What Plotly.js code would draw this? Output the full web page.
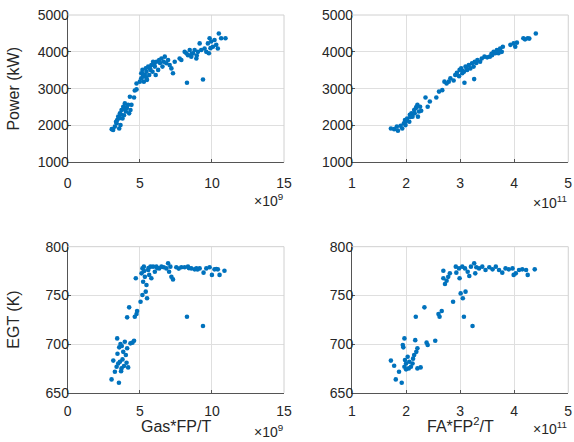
<!DOCTYPE html>
<html>
<head>
<meta charset="utf-8">
<script src="https://cdn.plot.ly/plotly-3.0.1.min.js"></script>
<style>html,body{margin:0;padding:0;background:#fff;}#chart{width:574px;height:442px;}</style>
</head>
<body>
<div id="chart"></div>
<script>
// Panel 1: Power vs Gas*FP/T (x in units of 1e9)
const gasX1 = [3.05,3.15,3.27,3.39,3.43,3.5,3.57,3.62,3.66,3.73,3.8,3.85,3.9,3.96,4.03,4.08,4.19,4.26,4.35,4.42,4.31,4.6,4.65,4.77,4.77,
  5.0,5.1,5.1,5.18,5.23,5.28,5.35,5.41,5.46,5.5,5.58,5.65,5.74,5.8,5.88,5.92,6.04,6.1,6.15,6.27,6.34,6.5,6.57,6.66,6.73,6.84,6.96,7.07,7.19,7.3,7.42,7.76,7.88,
  8.11,8.23,8.27,8.34,8.46,8.57,8.69,8.8,8.92,9.03,9.15,9.26,9.38,9.49,9.61,9.72,9.79,9.84,9.95,10.07,10.18,10.3,10.41,10.48,10.64,10.94,
  3.35,3.6,3.7,3.95,4.1,5.2,5.45,5.7,6.0,6.4,8.6,8.95,9.9];
const power1 = [1900,1880,1970,2060,2150,2240,1920,2330,2010,2420,2190,2510,2280,2600,2380,2470,2560,2330,2420,2560,2780,2760,2950,2980,3140,
  3190,3280,3420,3510,3330,3190,3370,3550,3460,3240,3600,3370,3510,3640,3460,3730,3600,3370,3730,3510,3780,3820,3600,3730,3870,3690,3780,3640,3550,3420,3730,3820,3780,
  4000,3960,3160,3910,4050,3870,3960,4050,3820,4000,4230,4050,3250,4090,4000,4230,3960,4370,4280,4140,4320,4190,4090,4500,4370,4370,
  2100,2200,2300,2450,2500,3400,3300,3550,3650,3700,3950,3900,4100];

// Panel 2: Power vs FA*FP^2/T (x in units of 1e11)
const faX2 = [1.72,1.78,1.83,1.85,1.9,1.93,1.96,1.98,1.99,2.02,2.06,2.07,2.1,2.12,2.15,2.16,2.18,2.21,2.22,2.24,2.26,2.28,2.36,2.4,2.44,2.56,2.61,2.67,2.71,2.75,2.79,2.82,2.88,2.91,2.94,2.98,2.99,3.02,3.04,3.07,3.08,3.1,3.13,3.16,3.19,3.22,3.25,3.26,3.27,3.32,3.37,3.4,3.45,3.5,3.55,3.59,3.62,3.65,3.68,3.71,3.74,3.77,3.79,3.93,3.99,4.02,4.05,4.17,4.2,4.25,4.28,4.4,
  2.0,2.08,2.19,3.05,3.12,3.3,3.58,3.7];
const power2 = [1920,1900,1970,1860,1990,1920,2060,2150,2010,2190,2100,2290,2330,2240,2420,2330,2470,2560,2240,2380,2510,2400,2760,2510,2650,2760,2920,2960,3190,3140,3190,3280,3220,3370,3430,3340,3510,3550,3420,3460,3160,3600,3510,3640,3550,3690,3600,3260,3730,3780,3730,3820,3870,3850,3870,3910,4000,3960,4050,3960,4090,4000,4140,4190,4230,4140,4250,4370,4340,4370,4360,4500,
  2120,2230,2500,3480,3560,3700,3950,4020];

// Panel 3: EGT vs Gas*FP/T (x in units of 1e9)
const gasX3 = [3.04,3.16,3.27,3.39,3.43,3.5,3.55,3.57,3.62,3.66,3.73,3.8,3.85,3.9,3.96,4.03,4.08,4.12,4.19,4.12,4.26,4.35,4.49,4.6,4.65,4.77,4.81,4.72,
  5.05,5.18,5.23,5.12,5.18,5.28,5.35,5.41,5.46,5.5,5.58,5.65,5.74,5.8,5.92,6.04,6.15,6.34,6.5,6.66,6.84,6.96,7.03,7.12,7.19,7.3,7.53,7.88,8.11,8.27,8.34,8.57,8.8,8.92,9.15,9.38,9.42,9.61,9.84,10.0,10.18,10.41,10.53,10.87,
  3.45,3.7,3.75,5.3,5.6,6.2,7.7,8.4,9.0,10.3];
const egt3 = [663.7,683,671.6,676.7,705.8,680,660.3,696.6,681.8,700,675,684.2,692,677.4,702.4,688.7,680.8,695.6,676,727.4,737.7,700.7,701.4,703.4,728,730.8,734,767.5,
  743.5,750.3,764,772.6,777.7,779.5,769,753.8,760.6,747,776,771,779.5,767.5,779.5,774.3,779.5,777.7,779.5,778.8,777.7,782.9,774.3,779.5,769,766.4,778.8,778.8,778.8,728,779.5,777.7,776.7,777.7,777.7,718.5,773.3,777.7,778.8,771,776.7,776.7,771,775.3,
  690,672,698,775,778,778,777.5,778,776.5,777];

// Panel 4: EGT vs FA*FP^2/T (x in units of 1e11)
const faX4 = [1.72,1.78,1.81,1.87,1.92,1.94,1.95,1.97,1.97,1.98,2.0,2.0,2.03,2.05,2.06,2.09,2.12,2.13,2.15,2.17,2.18,2.19,2.21,2.21,2.27,2.34,2.38,2.4,2.54,2.6,2.62,2.66,2.69,2.69,2.72,2.75,2.78,2.81,2.87,2.92,2.93,2.98,2.99,3.01,3.04,3.05,3.07,3.09,3.1,3.14,3.17,3.2,3.23,3.26,3.28,3.3,3.35,3.41,3.47,3.54,3.6,3.66,3.72,3.78,3.84,3.9,3.97,3.99,4.03,4.09,4.15,4.22,4.25,4.38];
const egt4 = [683,677.7,663.7,671.6,660.3,699,696.6,705.8,676.7,683.6,674,680,687,675,681.8,676.7,680,685,688.7,704,728,692,695.6,675,676,737.7,701.4,699,703.4,730.8,728,734,775.3,767.5,761.6,765,769,772.6,743.5,779.5,773.3,777.7,767.5,752,779.5,747,728,777.7,753.8,774.3,769.9,779.5,718.5,782.9,772.6,778.8,777.7,779.5,776,778.8,776.7,779.5,776,773.3,777.7,776.7,777.7,771,772.6,776,776.7,776,771,776.7];

const yTicksTop = [1000,2000,3000,4000,5000];
const yTicksBot = [650,700,750,800];
const xTicksGas = [0,5,10,15];
const xTicksFA = [1,2,3,4,5];

const blue = '#0072BD';
const textColor = '#262626';
const fontFam = 'Liberation Sans, Arial, Helvetica, sans-serif';

function trace(x, y, xa, ya) {
  return {x: x, y: y, xaxis: xa, yaxis: ya, type: 'scatter', mode: 'markers',
    marker: {color: blue, size: 4.6, line: {width: 0}}, hoverinfo: 'skip', showlegend: false};
}

const data = [
  trace(gasX1, power1, 'x', 'y'),
  trace(faX2, power2, 'x2', 'y2'),
  trace(gasX3, egt3, 'x3', 'y3'),
  trace(faX4, egt4, 'x4', 'y4')
];

function axis(domain, range, tickvals, anchor, standoff) {
  return {domain: domain, range: range, tickvals: tickvals, anchor: anchor,
    showgrid: true, gridcolor: '#dfdfdf', gridwidth: 1,
    showline: true, linecolor: '#555', linewidth: 1,
    ticks: 'inside', ticklen: 3, tickcolor: '#555',
    ticklabelstandoff: standoff,
    zeroline: false, fixedrange: true,
    tickfont: {family: fontFam, size: 14, color: textColor}};
}

const xL = [0.118, 0.4948], xR = [0.6132, 0.990];
const yT = [0.6328, 0.966], yB = [0.1115, 0.4419];

function ann(text, px, py, size, angle, xanchor) {
  return {text: text, xref: 'paper', yref: 'paper', x: px/574, y: 1 - py/442,
    xanchor: xanchor || 'center', yanchor: 'middle', textangle: angle || 0, showarrow: false,
    font: {size: size, family: fontFam, color: textColor}};
}

const layout = {
  width: 574, height: 442,
  margin: {l: 0, r: 0, t: 0, b: 0},
  paper_bgcolor: '#fff', plot_bgcolor: '#fff',
  font: {family: fontFam, color: textColor},
  xaxis: axis(xL, [0, 15], xTicksGas, 'y', 8),
  yaxis: axis(yT, [1000, 5000], yTicksTop, 'x', -5),
  xaxis2: axis(xR, [1, 5], xTicksFA, 'y2', 8),
  yaxis2: axis(yT, [1000, 5000], yTicksTop, 'x2', -5),
  xaxis3: axis(xL, [0, 15], xTicksGas, 'y3', 5),
  yaxis3: axis(yB, [650, 800], yTicksBot, 'x3', -5),
  xaxis4: axis(xR, [1, 5], xTicksFA, 'y4', 5),
  yaxis4: axis(yB, [650, 800], yTicksBot, 'x4', -5),
  shapes: [],
  annotations: [
    ann('Power (kW)', 14, 88.6, 16, -90),
    ann('EGT (K)', 14, 319.7, 16, -90),
    ann('Gas*FP/T', 176, 426, 16, 0),
    ann('FA*FP<sup>2</sup>/T', 460, 425, 16, 0),
    ann('×10<sup>9</sup>', 285, 200, 14, 0, 'right'),
    ann('×10<sup>11</sup>', 569, 202, 14, 0, 'right'),
    ann('×10<sup>9</sup>', 285, 431, 14, 0, 'right'),
    ann('×10<sup>11</sup>', 569, 428, 14, 0, 'right')
  ]
};

// light box edges on top and right of each axes
[['x','y'],['x2','y2'],['x3','y3'],['x4','y4']].forEach(function(p){
  layout.shapes.push({type:'line', xref:p[0]+' domain', yref:p[1]+' domain', x0:0, x1:1, y0:1, y1:1, line:{color:'#d0d0d0', width:1}});
  layout.shapes.push({type:'line', xref:p[0]+' domain', yref:p[1]+' domain', x0:1, x1:1, y0:0, y1:1, line:{color:'#d0d0d0', width:1}});
});

Plotly.newPlot('chart', data, layout, {staticPlot: true, displayModeBar: false});
</script>
</body>
</html>
